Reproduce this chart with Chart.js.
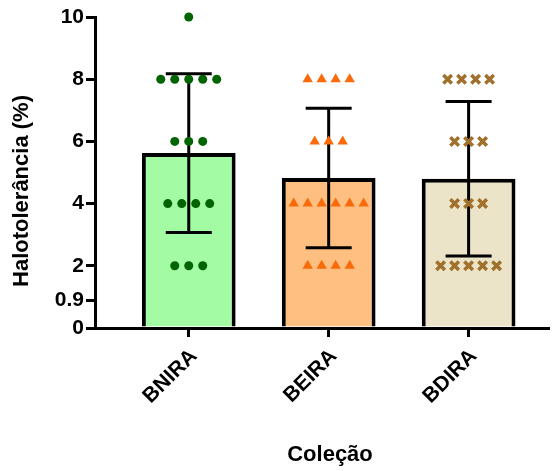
<!DOCTYPE html>
<html>
<head>
<meta charset="utf-8">
<script src="https://cdn.jsdelivr.net/npm/chart.js@4"></script>
<style>
  html, body { margin: 0; padding: 0; background: #fff; }
  #wrap { width: 558px; height: 471px; position: relative; }
</style>
</head>
<body>
<div id="wrap"><canvas id="chart"></canvas></div>
<script>
// --- Data -------------------------------------------------------------------
const categories = ['BNIRA', 'BEIRA', 'BDIRA']
const bniraValues = [10, 8, 8, 8, 8, 8, 6, 6, 6, 4, 4, 4, 4, 2, 2, 2]
const beiraValues = [8, 8, 8, 8, 6, 6, 6, 4, 4, 4, 4, 4, 4, 2, 2, 2, 2]
const bdiraValues = [8, 8, 8, 8, 6, 6, 6, 4, 4, 4, 2, 2, 2, 2, 2]
const yTicks = [0, 0.9, 2, 4, 6, 8, 10]

const barColors = ['#a3fba3', '#ffbf80', '#ebe4c8']
const pointColors = ['#006400', '#f86a0a', '#a0702c']
const pointStyles = ['circle', 'triangle', 'crossRot']
const pointSizes = [4.5, 6, 6]

const yTitle = 'Halotolerância (%)'
const xTitle = 'Coleção'

// --- Helpers ----------------------------------------------------------------
function mean(arr) {
    return arr.reduce((a, b) => a + b, 0) / arr.length
}

function sd(arr) {
    const m = mean(arr)
    const ss = arr.reduce((a, b) => a + (b - m) * (b - m), 0)
    return Math.sqrt(ss / (arr.length - 1))
}

// spread equal values sideways around the category centre
function spreadPoints(values, center) {
    const groups = {}
    values.forEach(v => { groups[v] = (groups[v] || 0) + 1 })
    const pts = []
    Object.keys(groups).forEach(k => {
        const n = groups[k]
        for (let i = 0; i < n; i++) {
            pts.push({ x: center + (i - (n - 1) / 2) * 0.1, y: Number(k) })
        }
    })
    return pts
}

const allValues = [bniraValues, beiraValues, bdiraValues]
const means = allValues.map(mean)
const sds = allValues.map(sd)

const fontFamily = '"Liberation Sans", Arial, sans-serif'
const tickFont = { family: fontFamily, size: 21, weight: 'bold' }

// --- Plugins ----------------------------------------------------------------
// mean +/- SD whiskers, drawn over the bars but under the points
const errorBars = {
    id: 'errorBars',
    afterDatasetDraw(chart, args) {
        if (args.index !== 0) return
        const ctx = chart.ctx
        const xs = chart.scales.x
        const ys = chart.scales.y
        ctx.save()
        ctx.strokeStyle = '#000'
        ctx.lineWidth = 3
        means.forEach((m, i) => {
            const px = xs.getPixelForValue(i + 1)
            const top = ys.getPixelForValue(m + sds[i])
            const bot = ys.getPixelForValue(m - sds[i])
            ctx.beginPath()
            ctx.moveTo(px, top)
            ctx.lineTo(px, bot)
            ctx.moveTo(px - 23, top)
            ctx.lineTo(px + 23, top)
            ctx.moveTo(px - 23, bot)
            ctx.lineTo(px + 23, bot)
            ctx.stroke()
        })
        ctx.restore()
    }
}

// axis titles placed like the Prism export
const axisTitles = {
    id: 'axisTitles',
    afterDraw(chart) {
        const ctx = chart.ctx
        ctx.save()
        ctx.fillStyle = '#000'
        ctx.font = 'bold 22px ' + fontFamily
        ctx.textAlign = 'center'
        ctx.textBaseline = 'middle'
        ctx.fillText(xTitle, 330, 455)
        ctx.translate(22, 191)
        ctx.rotate(-Math.PI / 2)
        ctx.fillText(yTitle, 0, 0)
        ctx.restore()
    }
}

// --- Chart ------------------------------------------------------------------
const datasets = [{
    type: 'bar',
    label: 'mean',
    data: means.map((m, i) => ({ x: i + 1, y: m })),
    backgroundColor: barColors,
    borderColor: '#000',
    borderWidth: 4,
    borderSkipped: 'start',
    categoryPercentage: 1,
    barPercentage: 0.67,
    order: 2
}]

allValues.forEach((vals, i) => {
    datasets.push({
        type: 'scatter',
        label: categories[i],
        data: spreadPoints(vals, i + 1),
        pointStyle: pointStyles[i],
        pointRadius: pointSizes[i],
        backgroundColor: pointColors[i],
        borderColor: pointColors[i],
        borderWidth: pointStyles[i] === 'crossRot' ? 3.5 : 0,
        clip: false,
        order: 1
    })
})

new Chart(document.getElementById('chart'), {
    data: { datasets: datasets },
    plugins: [errorBars, axisTitles],
    options: {
        responsive: true,
        maintainAspectRatio: false,
        animation: false,
        layout: { padding: { top: 17, right: 2, left: 0, bottom: 0 } },
        plugins: {
            legend: { display: false },
            tooltip: { enabled: false }
        },
        scales: {
            x: {
                type: 'linear',
                offset: false,
                min: 0.33,
                max: 3.571,
                afterBuildTicks: axis => { axis.ticks = [1, 2, 3].map(v => ({ value: v })) },
                afterFit: axis => { axis.height = 143 },
                grid: { display: true, offset: false, drawOnChartArea: false, drawTicks: true, tickLength: 9, color: '#000', lineWidth: 3 },
                border: { display: true, color: '#000', width: 3 },
                ticks: {
                    color: '#000',
                    font: tickFont,
                    minRotation: 45,
                    maxRotation: 45,
                    padding: 7,
                    labelOffset: 5,
                    callback: v => categories[v - 1]
                }
            },
            y: {
                min: 0,
                max: 10,
                afterBuildTicks: axis => { axis.ticks = yTicks.map(v => ({ value: v })) },
                afterFit: axis => { axis.width = 95 },
                grid: { display: true, drawOnChartArea: false, drawTicks: true, tickLength: 9, color: '#000', lineWidth: 3 },
                border: { display: true, color: '#000', width: 3 },
                ticks: {
                    color: '#000',
                    font: tickFont,
                    padding: 2,
                    callback: v => String(v)
                }
            }
        }
    }
})
</script>
</body>
</html>
